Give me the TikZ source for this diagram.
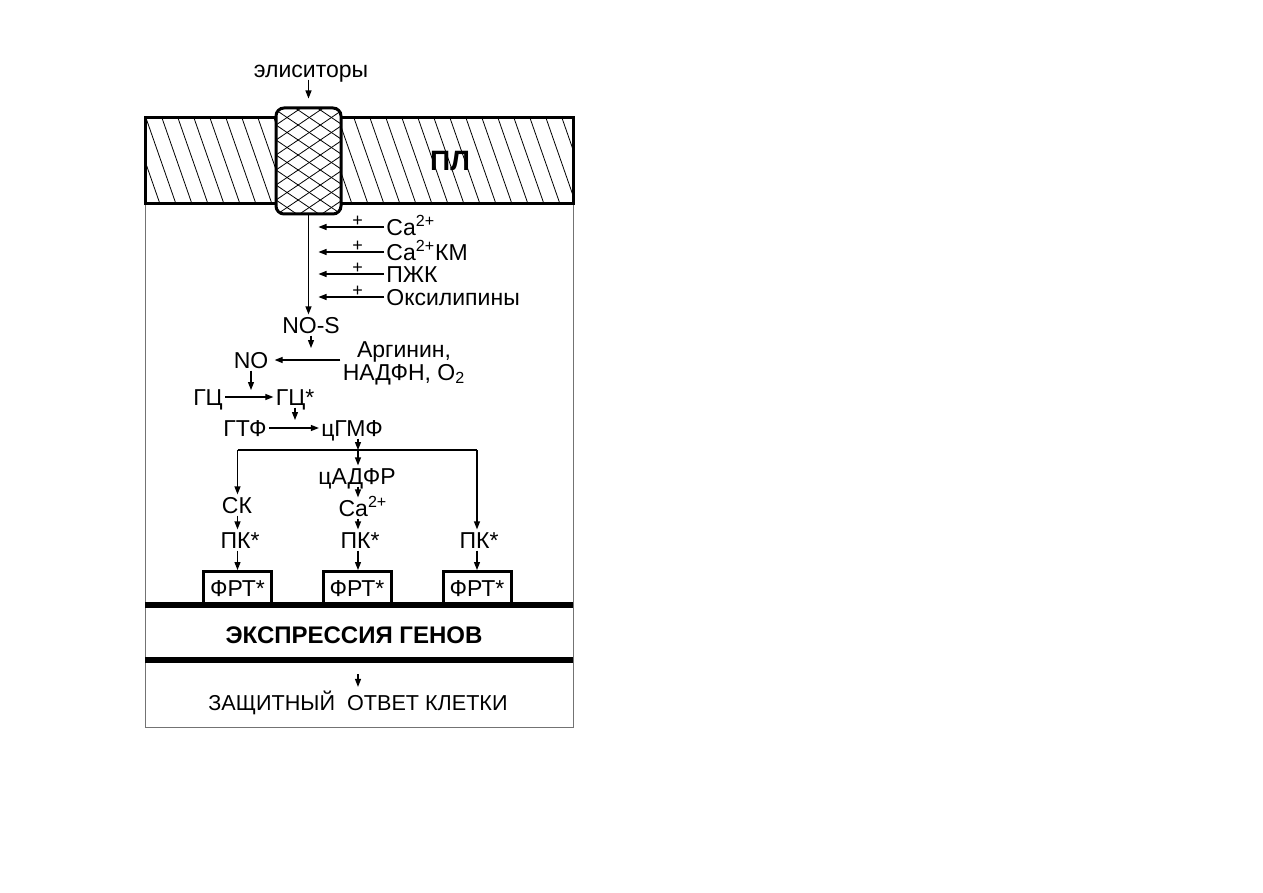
\documentclass[tikz,border=0pt]{standalone}
\usepackage{fontspec}
\setmainfont{Liberation Sans}
\usetikzlibrary{arrows.meta}

\begin{document}
\begin{tikzpicture}[x=0.5pt,y=-0.5pt,
    every node/.style={font=\fontsize{11.5}{13}\selectfont, inner sep=1pt, text height=8.2pt, text depth=0pt},
    arr/.style={-{Triangle[length=4pt,width=3pt]}, line width=0.6pt},
    plus/.style={font=\fontsize{9}{10}\selectfont, inner sep=0pt, text height=6.4pt, text depth=0pt, yshift=3.5pt},
    hatch/.style={line width=0.4pt},
    bar/.style={line width=3pt},
    frt/.style={draw, line width=1.5pt, minimum width=34pt, minimum height=16.5pt}]
    \useasboundingbox (0,0) rectangle (1263,893);
    \draw[black!55, line width=0.5pt] (145,204) -- (145,727) -- (573,727) -- (573,204);
    \begin{scope}
        \clip (145,118) rectangle (573,204);
        \foreach \i in {0,...,28} \draw[hatch] (130+\i*16,118) -- ++(30,86);
    \end{scope}
    \draw[line width=1.5pt] (145,118) rectangle (573,204);
    \begin{scope}
        \clip[rounded corners=4pt] (276,108) rectangle (341,214);
        \fill[white] (276,108) rectangle (341,214);
        \foreach \j in {-4,...,11} {
            \draw[hatch] (276,95+\j*15) -- ++(65,44);
            \draw[hatch] (276,95+\j*15) -- ++(65,-44);
        }
    \end{scope}
    \node[draw, line width=1.5pt, rounded corners=4pt, minimum width=32.5pt, minimum height=53pt, inner sep=0pt] (chan) at (308.5,161) {};
    \node[font=\fontsize{14}{16}\selectfont\bfseries, text height=10pt] (pl) at (450,161) {ПЛ};
    \node (elic) at (311,69) {элиситоры};
    \draw[arr] (elic.south -| chan.north) -- ([yshift=4pt]chan.north);

    \node[anchor=west] (ca) at (384,227) {Ca\textsuperscript{2+}};
    \node[anchor=west] (cakm) at (384,252) {Ca\textsuperscript{2+}КМ};
    \node[anchor=west] (pzhk) at (384,274) {ПЖК};
    \node[anchor=west] (oxy) at (384,297) {Оксилипины};
    \foreach \n in {ca,cakm,pzhk,oxy}
        \draw[arr, shorten >=5pt] (\n.west) -- (\n.west -| chan.south) node[pos=0.35, plus] {+};

    \node (nos) at (311,325) {NO-S};
    \draw[arr] (chan.south) -- (chan.south |- nos.north);
    \node (no) at (251,360) {NO};
    \node[align=center, font=\fontsize{11.5}{10}\selectfont, text height=, text depth=] (arg) at (404,363) {Аргинин,\\НАДФН, O\textsubscript{2}};
    \draw[arr, shorten >=2pt] (arg.west |- no.east) -- (no.east);
    \draw[arr] (nos.south) -- ([yshift=6pt]nos.south |- no.center);

    \node (gc) at (208,397) {ГЦ};
    \node (gcs) at (295,397) {ГЦ*};
    \draw[arr] (gc) -- (gcs);
    \draw[arr] (no.south) -- ([yshift=3.5pt]no.south |- gc.center);
    \node (gtp) at (245,428) {ГТФ};
    \node (cgmp) at (352,428) {цГМФ};
    \draw[arr] (gtp) -- (cgmp);
    \draw[arr] (gcs.south) -- ([yshift=4pt]gcs.south |- gtp.center);

    \coordinate (split) at (358,450);
    \node (cadpr) at (357,476) {цАДФР};
    \node (ca2) at (363,508) {Ca\textsuperscript{2+}};
    \node (sk) at (237,505) {СК};
    \node (pkl) at (240,540) {ПК*};
    \node (pkm) at (360,540) {ПК*};
    \node (pkr) at (479,540) {ПК*};
    \node[frt] (frtl) at (237.5,588) {ФРТ*};
    \node[frt] (frtm) at (357,588) {ФРТ*};
    \node[frt] (frtr) at (477,588) {ФРТ*};
    \draw[arr] (cgmp.south -| split) -- (split);
    \draw[line width=0.6pt] (split -| frtl) -- (split -| frtr);
    \draw[arr] (split) -- (cadpr.north -| split);
    \draw[arr] (split -| frtl) -- (sk.north -| frtl);
    \draw[arr] (split -| frtr) -- (pkr.north -| frtr);
    \draw[arr] (cadpr.south -| split) -- (ca2.north -| split);
    \draw[arr] (ca2.south -| split) -- (pkm.north -| split);
    \draw[arr] (sk.south -| frtl) -- (pkl.north -| frtl);
    \draw[arr] (pkl.south -| frtl) -- (frtl.north);
    \draw[arr] (pkm.south -| split) -- (frtm.north -| split);
    \draw[arr] (pkr.south -| frtr) -- (frtr.north);

    \draw[bar] (145,605) -- (573,605);
    \draw[bar] (145,660) -- (573,660);
    \coordinate (bar2) at (358,660);
    \node[font=\fontsize{12}{14}\selectfont\bfseries, text height=8.6pt] (expr) at (354,635) {ЭКСПРЕССИЯ ГЕНОВ};
    \node[font=\fontsize{10.8}{12}\selectfont, text height=7.7pt] (resp) at (358,703) {ЗАЩИТНЫЙ~ ОТВЕТ КЛЕТКИ};
    \draw[arr, shorten >=3pt] ([yshift=-7pt]bar2) -- (resp.north);
\end{tikzpicture}
\end{document}
